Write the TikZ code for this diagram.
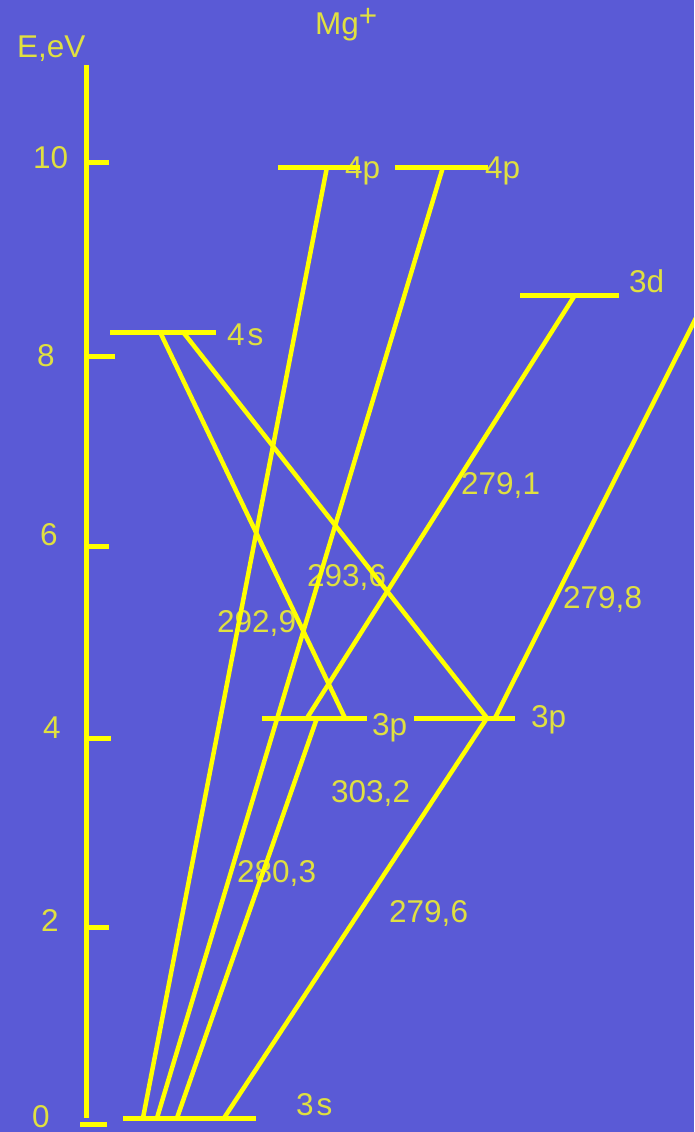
\documentclass[tikz,border=0pt]{standalone}
\usepackage{fontspec}
\setmainfont{Liberation Sans}
\definecolor{bg}{RGB}{90,90,214}
\definecolor{ln}{RGB}{255,255,0}
\definecolor{tx}{RGB}{224,224,64}
\begin{document}
\begin{tikzpicture}[x=1pt,y=-1pt,
  lvl/.style={ln,line width=5pt},
  tr/.style={ln,line width=4.5pt},
  lab/.style={tx,font=\fontsize{31.5}{33}\selectfont,inner sep=0pt,anchor=base west}]
\clip (0,0) rectangle (694,1132);
\fill[bg] (0,0) rectangle (694,1132);
\useasboundingbox (0,0) rectangle (694,1132);
% axis labels
\node[lab] (ylab) at (17,58) {E,eV};
\node[lab] (title) at (315,35) {Mg\raisebox{8pt}{+}};
\node[lab] (t10) at (33,168) {10};
\node[lab] (t8) at (37,366) {8};
\node[lab] (t6) at (40,545) {6};
\node[lab] (t4) at (43,738) {4};
\node[lab] (t2) at (41,931) {2};
\node[lab] (t0) at (32,1127) {0};
% level labels
\node[lab] (l4pa) at (345,178) {4p};
\node[lab] (l4pb) at (485,178) {4p};
\node[lab] (l4s) at (227,345) {4\kern3pt s};
\node[lab] (l3d) at (629,292) {3d};
\node[lab] (l3pa) at (372,735) {3p};
\node[lab] (l3pb) at (531,727) {3p};
\node[lab] (l3s) at (296,1115) {3\kern3pt s};
% wavelength labels
\node[lab] (w1) at (461,494) {279,1};
\node[lab] (w2) at (307,586) {293,6};
\node[lab] (w3) at (563,608) {279,8};
\node[lab] (w4) at (217,632) {292,9};
\node[lab] (w5) at (331,802) {303,2};
\node[lab] (w6) at (237,882) {280,3};
\node[lab] (w7) at (389,922) {279,6};
% axis
\coordinate (atop) at (86,65);
\coordinate (abot) at (86,1118);
\draw[lvl] (atop) -- (abot);
\draw[lvl] (86,162) -- (109,162);
\draw[lvl] (86,356) -- (115,356);
\draw[lvl] (86,546) -- (109,546);
\draw[lvl] (86,738) -- (111,738);
\draw[lvl] (86,927) -- (109,927);
\draw[lvl] (80,1124) -- (107,1124);
% levels
\draw[lvl] (123,1118) -- (256,1118);
\draw[lvl] (110,332) -- (216,332);
\draw[lvl] (278,167) -- (360,167);
\draw[lvl] (395,167) -- (488,167);
\draw[lvl] (520,295) -- (619,295);
\draw[lvl] (262,718) -- (367,718);
\draw[lvl] (414,718) -- (515,718);
% endpoints
\coordinate (s1) at (143,1118);
\coordinate (s2) at (157,1118);
\coordinate (s3) at (177,1118);
\coordinate (s4) at (224,1118);
\coordinate (pa) at (327,167);
\coordinate (pb) at (443,167);
\coordinate (qa1) at (317,718);
\coordinate (qa2) at (345,718);
\coordinate (qa3) at (307,718);
\coordinate (qb) at (487,718);
\coordinate (qb2) at (495,718);
\coordinate (r1) at (160,332);
\coordinate (r2) at (183,332);
\coordinate (d) at (575,295);
\coordinate (dx) at (710,290);
% transitions
\draw[tr] (s1) -- (pa);
\draw[tr] (s2) -- (pb);
\draw[tr] (s3) -- (qa1);
\draw[tr] (s4) -- (qb);
\draw[tr] (r1) -- (qa2);
\draw[tr] (r2) -- (qb);
\draw[tr] (qa3) -- (d);
\draw[tr] (qb2) -- (dx);
\end{tikzpicture}
\end{document}
